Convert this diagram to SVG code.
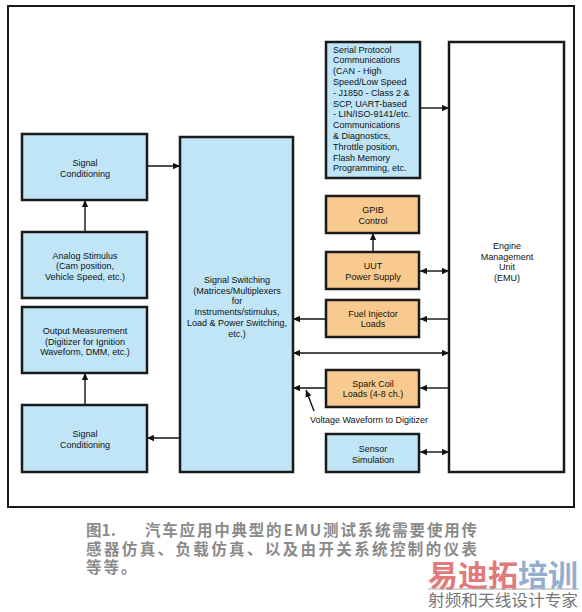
<svg xmlns="http://www.w3.org/2000/svg" width="582" height="612" viewBox="0 0 582 612">
<style>
.b{fill:#BFE5F7;stroke:#1a1a1a;stroke-width:2.5}
.o{fill:#F8CA8F;stroke:#1a1a1a;stroke-width:2.5}
.w{fill:#fff;stroke:#1a1a1a;stroke-width:2.5}
.t{font-family:"Liberation Sans",Arial,sans-serif;font-size:9px;fill:#111;text-anchor:middle}
.l{text-anchor:start}
.c{stroke:#111;stroke-width:1.4;fill:none}
.cap{font-family:"Noto Sans CJK SC",sans-serif;font-size:15.5px;font-weight:bold;fill:#8a8a8a}
</style>
<defs>
<marker id="ah" viewBox="0 0 10 10" refX="10" refY="5" markerWidth="7" markerHeight="7" markerUnits="userSpaceOnUse" orient="auto-start-reverse">
<path d="M0,0.5 L10,5 L0,9.5 z" fill="#111"/>
</marker>
</defs>
<rect x="0" y="0" width="582" height="612" fill="#fff"/>
<rect x="8" y="6" width="566" height="501" fill="none" stroke="#1a1a1a" stroke-width="2"/>

<g id="connectors">
<line class="c" x1="147" y1="166" x2="180" y2="166" marker-end="url(#ah)"/>
<line class="c" x1="85" y1="232" x2="85" y2="200" marker-end="url(#ah)"/>
<line class="c" x1="85" y1="405" x2="85" y2="373" marker-end="url(#ah)"/>
<line class="c" x1="180" y1="438" x2="147" y2="438" marker-end="url(#ah)"/>
<line class="c" x1="420" y1="108" x2="449" y2="108" marker-end="url(#ah)"/>
<line class="c" x1="373" y1="252" x2="373" y2="233" marker-end="url(#ah)"/>
<line class="c" x1="420" y1="271" x2="449" y2="271" marker-start="url(#ah)" marker-end="url(#ah)"/>
<line class="c" x1="326" y1="319" x2="293" y2="319" marker-end="url(#ah)"/>
<line class="c" x1="449" y1="319" x2="420" y2="319" marker-end="url(#ah)"/>
<line class="c" x1="293" y1="353" x2="449" y2="353" marker-start="url(#ah)" marker-end="url(#ah)"/>
<line class="c" x1="326" y1="388" x2="293" y2="388" marker-end="url(#ah)"/>
<line class="c" x1="449" y1="388" x2="420" y2="388" marker-end="url(#ah)"/>
<line class="c" x1="420" y1="452" x2="449" y2="452" marker-start="url(#ah)" marker-end="url(#ah)"/>
<line class="c" x1="314" y1="411" x2="306" y2="390" marker-end="url(#ah)"/>
<text class="t" x="369" y="422.5">Voltage Waveform to Digitizer</text>
</g>

<g id="sigcond1">
<rect class="b" x="22" y="134" width="125" height="66"/>
<text class="t" x="85" y="165.5">Signal</text>
<text class="t" x="85" y="176.5">Conditioning</text>
</g>
<g id="analog">
<rect class="b" x="22" y="232" width="125" height="66"/>
<text class="t" x="85" y="258.5">Analog Stimulus</text>
<text class="t" x="85" y="269">(Cam position,</text>
<text class="t" x="85" y="279.5">Vehicle Speed, etc.)</text>
</g>
<g id="output">
<rect class="b" x="22" y="307" width="125" height="66"/>
<text class="t" x="85" y="333.5">Output Measurement</text>
<text class="t" x="85" y="344.5">(Digitizer for Ignition</text>
<text class="t" x="85" y="355">Waveform, DMM, etc.)</text>
</g>
<g id="sigcond2">
<rect class="b" x="22" y="405" width="125" height="67"/>
<text class="t" x="85" y="436.5">Signal</text>
<text class="t" x="85" y="447.5">Conditioning</text>
</g>
<g id="switching">
<rect class="b" x="180" y="137" width="113" height="335"/>
<text class="t" x="237" y="282.5">Signal Switching</text>
<text class="t" x="237" y="293.5">(Matrices/Multiplexers</text>
<text class="t" x="237" y="304.3">for</text>
<text class="t" x="237" y="315.2">Instruments/stimulus,</text>
<text class="t" x="237" y="326">Load &amp; Power Switching,</text>
<text class="t" x="237" y="336.8">etc.)</text>
</g>
<g id="serial">
<rect class="b" x="326" y="42" width="94" height="136"/>
<text class="t l" x="333" y="52.5">Serial Protocol</text>
<text class="t l" x="333" y="63.3">Communications</text>
<text class="t l" x="333" y="74.1">(CAN - High</text>
<text class="t l" x="333" y="84.9">Speed/Low Speed</text>
<text class="t l" x="333" y="95.7">- J1850 - Class 2 &amp;</text>
<text class="t l" x="333" y="106.5">SCP, UART-based</text>
<text class="t l" x="333" y="117.3">- LIN/ISO-9141/etc.</text>
<text class="t l" x="333" y="128.1">Communications</text>
<text class="t l" x="333" y="138.9">&amp; Diagnostics,</text>
<text class="t l" x="333" y="149.7">Throttle position,</text>
<text class="t l" x="333" y="160.5">Flash Memory</text>
<text class="t l" x="333" y="171.3">Programming, etc.</text>
</g>
<g id="gpib">
<rect class="o" x="326" y="196" width="93" height="37"/>
<text class="t" x="373" y="212.5">GPIB</text>
<text class="t" x="373" y="223.5">Control</text>
</g>
<g id="uut">
<rect class="o" x="326" y="252" width="93" height="37"/>
<text class="t" x="373" y="268.5">UUT</text>
<text class="t" x="373" y="279.5">Power Supply</text>
</g>
<g id="fuel">
<rect class="o" x="326" y="300" width="93" height="37"/>
<text class="t" x="373" y="316.5">Fuel Injector</text>
<text class="t" x="373" y="327">Loads</text>
</g>
<g id="spark">
<rect class="o" x="326" y="370" width="93" height="37"/>
<text class="t" x="373" y="386.5">Spark Coil</text>
<text class="t" x="373" y="397">Loads (4-8 ch.)</text>
</g>
<g id="sensor">
<rect class="b" x="326" y="434" width="93" height="38"/>
<text class="t" x="373" y="451.5">Sensor</text>
<text class="t" x="373" y="462.5">Simulation</text>
</g>
<g id="emu">
<rect class="w" x="449" y="42" width="115" height="430"/>
<text class="t" x="507" y="248.5">Engine</text>
<text class="t" x="507" y="259.5">Management</text>
<text class="t" x="507" y="270">Unit</text>
<text class="t" x="507" y="280.5">(EMU)</text>
</g>

<g id="caption">
<text class="cap" x="86" y="536">图1.</text>
<text class="cap" x="145" y="536" textLength="332" lengthAdjust="spacing">汽车应用中典型的EMU测试系统需要使用传</text>
<text class="cap" x="86" y="554.5" textLength="391" lengthAdjust="spacing">感器仿真、负载仿真、以及由开关系统控制的仪表</text>
<text class="cap" x="86" y="573" letter-spacing="2">等等。</text>
</g>
<g id="watermark">
<text x="428" y="586" font-family="Noto Sans CJK SC,sans-serif" font-size="30" font-weight="bold" textLength="150" lengthAdjust="spacingAndGlyphs"><tspan fill="#E37A7A">易迪拓</tspan><tspan fill="#93AECF">培训</tspan></text>
<line x1="428" y1="589" x2="579" y2="589" stroke="#aaa" stroke-width="1"/>
<text x="428" y="606" font-family="Noto Sans CJK SC,sans-serif" font-size="16" fill="#777" textLength="150" lengthAdjust="spacingAndGlyphs">射频和天线设计专家</text>
</g>
</svg>
